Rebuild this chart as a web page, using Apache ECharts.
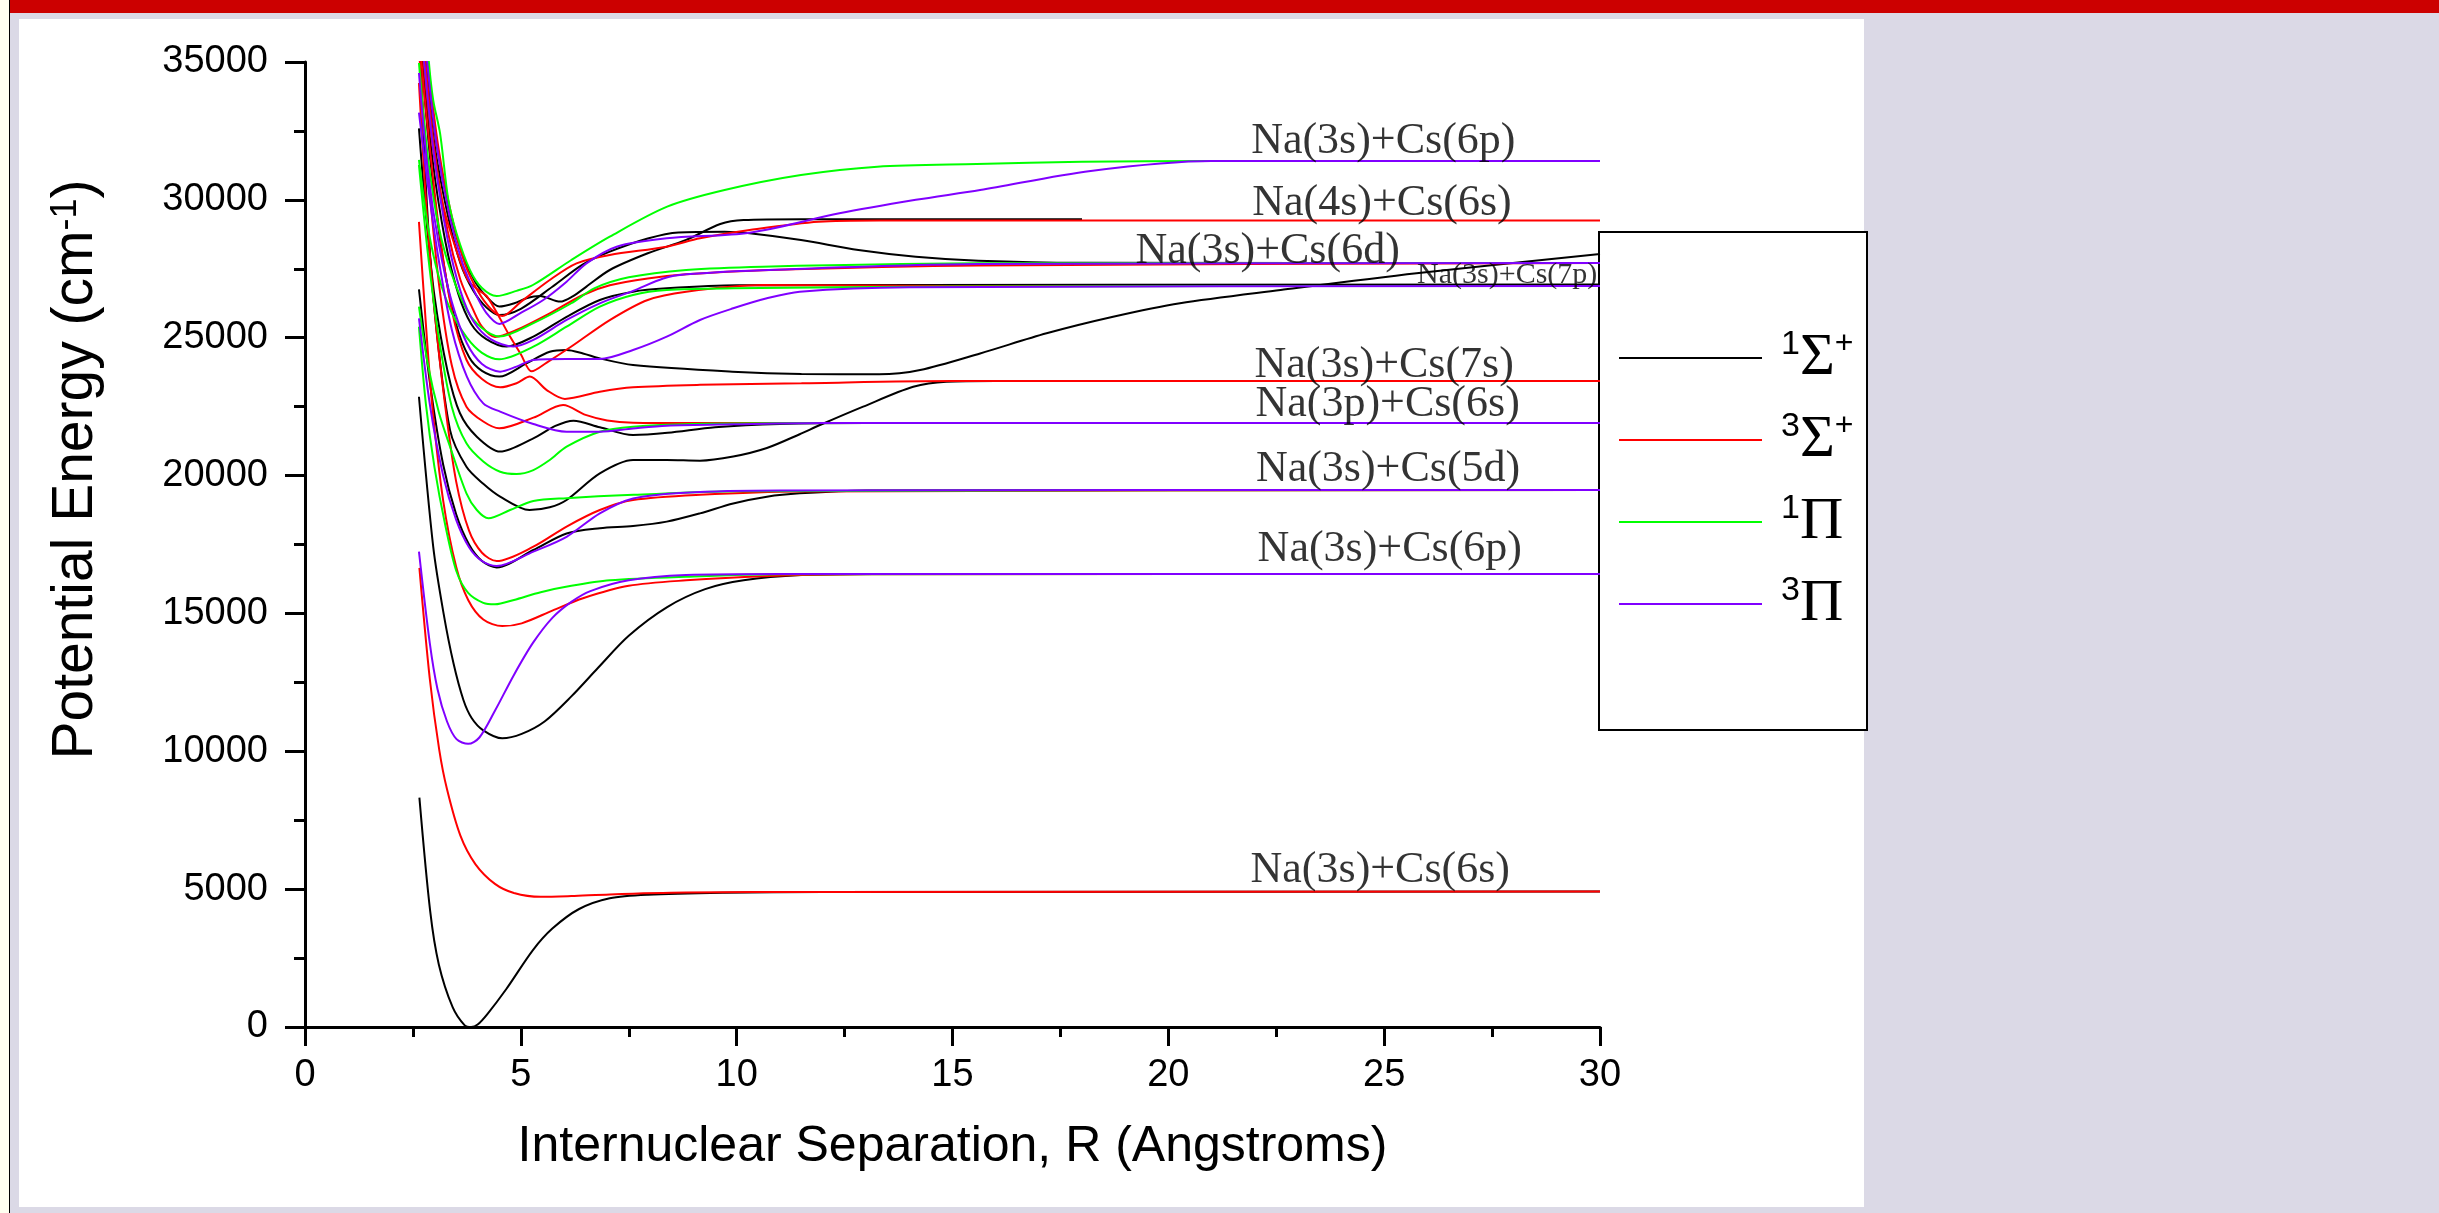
<!DOCTYPE html>
<html>
<head>
<meta charset="utf-8">
<title>NaCs potential energy curves</title>
<script src="https://cdn.jsdelivr.net/npm/echarts/dist/echarts.min.js"></script>
<style>
  html, body { margin: 0; height: 100%; background: #dbd9e6; overflow: hidden; }
  #strip { position: absolute; left: 0; top: 0; width: 9px; height: 1213px; background: #fffff0; border-right: 1px solid #000; }
  #topbar { position: absolute; left: 10px; top: 0; right: 0; height: 13px; background: #cc0000; }
  #panel { position: absolute; left: 19px; top: 19px; width: 1845px; height: 1188px; background: #fff; }
  #container { position: absolute; left: 0; top: 0; width: 2439px; height: 1213px; }
</style>
</head>
<body>
<div id="strip"></div>
<div id="topbar"></div>
<div id="panel"></div>
<div id="container"></div>
<script type="text/javascript">
// R (Angstrom), energy (cm-1)

// Na(3s)+Cs(6s)
const s1_6s = [[2.65,8320],[2.9,4200],[3.1,2270],[3.42,720],[3.7,60],[3.85,0],[4.0,90],[4.22,460],[4.66,1370],[5.28,2790],[5.73,3570],[6.35,4280],[7.06,4670],[7.94,4800],[9.7,4870],[12,4900],[30,4910]];
const s3_6s = [[2.65,16650],[2.89,12640],[3.11,10050],[3.29,8620],[3.6,6940],[3.95,5900],[4.4,5190],[4.84,4860],[5.46,4720],[6.17,4750],[7.06,4810],[8.83,4875],[12,4900],[30,4910]];

// Na(3s)+Cs(6p)
const s1_6p = [[2.64,22860],[2.97,17420],[3.21,15000],[3.44,13190],[3.67,11860],[3.86,11210],[4.13,10760],[4.57,10470],[5.02,10630],[5.55,11080],[6.17,11990],[6.79,13030],[7.5,14190],[8.39,15230],[9.27,15880],[10.16,16200],[11.49,16390],[13.2,16430],[30,16430]];
const s3_6p = [[2.64,29200],[2.8,25500],[2.95,22500],[3.2,19100],[3.5,16700],[3.78,15490],[4.13,14780],[4.57,14540],[5.02,14640],[5.73,15100],[6.44,15550],[7.5,16000],[8.83,16200],[10.6,16350],[13,16420],[30,16430]];
const p1_6p = [[2.64,25400],[2.8,22600],[3.0,20300],[3.25,18200],[3.51,16520],[3.78,15745],[4.13,15383],[4.4,15330],[4.84,15490],[5.46,15770],[6.17,16000],[7.06,16200],[8.83,16330],[11,16420],[30,16430]];
const p3_6p = [[2.64,17240],[2.89,13930],[3.07,12250],[3.29,11080],[3.51,10440],[3.78,10270],[4.04,10500],[4.4,11470],[4.84,12770],[5.28,13930],[5.73,14840],[6.17,15420],[6.61,15810],[7.5,16200],[8.83,16390],[11,16430],[30,16430]];

// Na(3s)+Cs(5d)
const s1_5d = [[2.64,26755],[2.9,23300],[3.2,20400],[3.5,18600],[3.8,17500],[4.1,16900],[4.44,16670],[5.29,17300],[6.06,17900],[6.83,18090],[7.6,18170],[8.38,18330],[9.15,18630],[9.92,18990],[10.7,19235],[11.46,19356],[13,19460],[30,19477]];
const s3_5d = [[2.64,34240],[2.8,30000],[3.0,26000],[3.25,22500],[3.5,19800],[3.8,18000],[4.1,17200],[4.44,16900],[5.29,17420],[6.06,18150],[6.83,18750],[7.6,19110],[9.15,19300],[11.5,19420],[30,19477]];
const p1_5d = [[2.64,26130],[2.85,24000],[3.1,22300],[3.36,21050],[3.74,19355],[3.98,18750],[4.25,18450],[4.75,18750],[5.29,19080],[6.06,19180],[7.61,19300],[10,19430],[30,19477]];
const p3_5d = [[2.64,25700],[2.9,22500],[3.2,20000],[3.5,18400],[3.8,17400],[4.1,16900],[4.44,16720],[5.29,17240],[6.06,17780],[6.83,18630],[7.6,19170],[8.8,19380],[11,19460],[30,19477]];

// Na(3p)+Cs(6s)
const s1_3p = [[2.64,32595],[2.8,29500],[3.0,26500],[3.3,23800],[3.59,22260],[3.98,21410],[4.52,20870],[5.29,21350],[5.8,21800],[6.22,21990],[6.83,21750],[7.6,21470],[8.4,21550],[9.5,21750],[11,21870],[13,21907],[30,21907]];
const s3_3p = [[2.63,36000],[2.66,35000],[2.85,31000],[3.1,27000],[3.4,24000],[3.74,22500],[4.13,21960],[4.5,21714],[5.29,22100],[5.98,22560],[6.5,22200],[7.0,22000],[7.6,21920],[9,21907],[30,21907]];
const p1_3p = [[2.64,31265],[2.85,28000],[3.1,25000],[3.4,22500],[3.74,21170],[4.13,20510],[4.52,20140],[4.9,20057],[5.29,20200],[5.67,20565],[6.06,21048],[6.83,21590],[7.6,21770],[9,21870],[12,21907],[30,21907]];
const p3_3p = [[2.64,33163],[2.85,30500],[3.1,27800],[3.4,25300],[3.75,23590],[4.13,22620],[4.52,22320],[5.29,21870],[6.06,21590],[6.83,21590],[7.6,21710],[8.38,21810],[9.92,21860],[12,21907],[30,21907]];

// Na(3s)+Cs(7s)
const s1_7s = [[2.65,36000],[2.68,35000],[2.8,30500],[3.0,26000],[3.36,21650],[3.74,20320],[4.13,19700],[4.52,19235],[5.2,18750],[5.67,18850],[6.06,19115],[6.83,20080],[7.6,20565],[8.38,20565],[9.15,20540],[9.92,20690],[10.7,21000],[11.46,21500],[11.93,21834],[12.93,22500],[14.09,23220],[14.86,23405],[16,23430],[30,23430]];
const s3_7s = [[2.67,36000],[2.7,35000],[2.85,32500],[3.1,29000],[3.4,26000],[3.74,24200],[4.1,23500],[4.52,23200],[4.9,23350],[5.21,23590],[5.6,23100],[6.02,22780],[6.83,23040],[7.6,23200],[9.15,23290],[11.5,23350],[15,23430],[30,23430]];

// Na(3s)+Cs(7p)
const s1_7p = [[2.70,36000],[2.73,35000],[2.95,31500],[3.25,28500],[3.55,26600],[3.85,25500],[4.2,24950],[4.67,24680],[5.29,25040],[6.06,25760],[6.83,26370],[7.6,26670],[8.38,26790],[10,26900],[30,26930]];
const s3_7p = [[2.72,36000],[2.75,35000],[2.95,32000],[3.2,29800],[3.5,28200],[3.77,27100],[4.0,26750],[4.22,26490],[4.75,25040],[5.0,24400],[5.25,23780],[5.6,24100],[6.17,24680],[7.06,25640],[7.94,26370],[8.83,26670],[10.6,26910],[15,26880],[30,26876]];
const p1_7p = [[2.64,31446],[2.85,29000],[3.1,27200],[3.4,25900],[3.75,25000],[4.1,24450],[4.5,24216],[5.29,24675],[6.06,25400],[6.83,26127],[7.6,26551],[8.38,26730],[9.92,26790],[15,26860],[30,26876]];
const p3_7p = [[2.64,34600],[2.85,31000],[3.1,28400],[3.4,26300],[3.75,24800],[4.1,24050],[4.52,23768],[4.9,23950],[5.29,24192],[6.06,24228],[6.83,24228],[7.6,24555],[8.38,25039],[9.15,25644],[9.92,26067],[10.7,26430],[11.46,26670],[14,26830],[30,26876]];

// Na(3s)+Cs(6d)
const s1_6d = [[2.75,36000],[2.78,35000],[3.0,32000],[3.3,29500],[3.6,27700],[3.9,26700],[4.2,26100],[4.5,25824],[5.0,26050],[5.73,26850],[6.43,27650],[7.06,28121],[7.94,28600],[8.65,28820],[9.72,28846],[10.3,28790],[11.49,28544],[12.82,28183],[14.15,27940],[15.6,27795],[18,27720],[30,27710]];
const s3_6d = [[2.76,36000],[2.79,35000],[3.0,31800],[3.3,28900],[3.6,27100],[3.9,26000],[4.1,25400],[4.4,25026],[4.9,25280],[5.67,25885],[6.44,26550],[7.06,26900],[7.94,27150],[8.83,27300],[10.6,27450],[15.6,27620],[30,27710]];
const p1_6d = [[2.64,34964],[2.85,31500],[3.1,29000],[3.4,27300],[3.75,26000],[4.1,25350],[4.5,25040],[5.28,25520],[6.17,26250],[6.7,26790],[7.5,27190],[8.83,27456],[10.6,27577],[15.6,27700],[30,27710]];
const p3_6d = [[2.73,36000],[2.76,35000],[3.0,31500],[3.3,28600],[3.6,26700],[3.9,25600],[4.3,24950],[4.83,24680],[5.29,24918],[6.06,25643],[6.83,26248],[7.6,26700],[8.3,27150],[8.83,27300],[10.6,27450],[15.6,27674],[30,27710]];

// Na(4s)+Cs(6s)
const s1_4s = [[2.78,36000],[2.81,35000],[3.05,32000],[3.35,29600],[3.65,28000],[3.95,27000],[4.2,26500],[4.5,26130],[4.85,26250],[5.13,26430],[5.44,26514],[5.91,26310],[6.2,26500],[6.52,26852],[7.06,27456],[7.94,28062],[8.83,28546],[9.62,29125],[10.16,29270],[11.5,29300],[18,29300]];
const s3_4s = [[2.82,36000],[2.85,35000],[3.1,31800],[3.4,29400],[3.7,27700],[4.0,26700],[4.3,26050],[4.57,25788],[5.0,26300],[5.67,27094],[6.29,27698],[7.06,28000],[8.38,28302],[9.15,28605],[10.3,28907],[11.9,29209],[13.3,29250],[30,29250]];

// upper limit, labelled Na(3s)+Cs(6p) in the figure
const p1_top = [[2.84,36000],[2.87,35000],[2.97,33620],[3.13,32400],[3.32,30000],[3.51,28790],[3.82,27456],[4.1,26800],[4.44,26513],[4.9,26700],[5.28,26912],[6.17,27819],[7.06,28665],[8.39,29753],[9.72,30358],[11.49,30902],[13.26,31205],[15.56,31301],[18,31380],[21,31410],[30,31410]];
const p3_top = [[2.80,36000],[2.83,35000],[3.05,32000],[3.35,29400],[3.65,27700],[3.95,26600],[4.2,25900],[4.5,25500],[5.0,25900],[5.52,26368],[6.06,27033],[6.52,27698],[7.22,28302],[8.38,28605],[10.3,28810],[12.38,29512],[14.15,30000],[15.64,30358],[18.2,31050],[21,31410],[30,31410]];

// the long-range 1Sigma+ curve that keeps rising to R = 30
const s1_long = [[2.68,36000],[2.71,35000],[2.9,31500],[3.2,27800],[3.5,25500],[3.8,24300],[4.1,23800],[4.5,23590],[5.13,24070],[5.67,24490],[6.06,24555],[6.44,24430],[6.83,24250],[7.6,24010],[9.9,23770],[11.5,23685],[13.3,23673],[14.25,23830],[15.64,24430],[17.18,25160],[18.72,25760],[20.27,26250],[22.6,26730],[25.75,27340],[30,28040]];

// asymptote labels: text, R, energy at text centre
const levelLabels = [
  ['Na(3s)+Cs(6p)', 24.98, 32135],
  ['Na(4s)+Cs(6s)', 24.95, 29886],
  ['Na(3s)+Cs(6d)', 22.30, 28138],
  ['Na(3s)+Cs(7p)', 27.85, 27275],
  ['Na(3s)+Cs(7s)', 25.00, 24011],
  ['Na(3p)+Cs(6s)', 25.08, 22570],
  ['Na(3s)+Cs(5d)', 25.09, 20239],
  ['Na(3s)+Cs(6p)', 25.13, 17319],
  ['Na(3s)+Cs(6s)', 24.91, 5694]
];
const smallLabel = 'Na(3s)+Cs(7p)';

const stateNames = ['S1', 'S3', 'P1', 'P3'];
const stateColors = { S1: '#000000', S3: '#ff0000', P1: '#00ff00', P3: '#8000ff' };
const legendText = {
  S1: '{n|1}{g|\u03A3}{p|+}',
  S3: '{n|3}{g|\u03A3}{p|+}',
  P1: '{n|1}{g|\u03A0}',
  P3: '{n|3}{g|\u03A0}'
};

const curves = [
  ['S1', s1_6s], ['S1', s1_6p], ['S1', s1_5d], ['S1', s1_3p], ['S1', s1_7s], ['S1', s1_long], ['S1', s1_7p], ['S1', s1_6d], ['S1', s1_4s],
  ['S3', s3_6s], ['S3', s3_6p], ['S3', s3_5d], ['S3', s3_3p], ['S3', s3_7s], ['S3', s3_7p], ['S3', s3_6d], ['S3', s3_4s],
  ['P1', p1_6p], ['P1', p1_5d], ['P1', p1_3p], ['P1', p1_7p], ['P1', p1_6d], ['P1', p1_top],
  ['P3', p3_6p], ['P3', p3_5d], ['P3', p3_3p], ['P3', p3_7p], ['P3', p3_6d], ['P3', p3_top]
];

let series = curves.map(([state, pts]) => ({
  name: state,
  type: 'line',
  data: pts,
  symbol: 'none',
  smooth: 0.3,
  clip: true,
  silent: true,
  lineStyle: { width: 2, color: stateColors[state] },
  itemStyle: { color: stateColors[state] }
}));

series.push({
  name: 'labels',
  type: 'scatter',
  silent: true,
  symbolSize: 2,
  itemStyle: { color: 'rgba(255,255,255,0)' },
  data: levelLabels.map(([txt, r, e]) => ({
    value: [r, e],
    label: {
      show: true,
      position: 'inside',
      formatter: txt,
      color: '#000',
      fontFamily: 'Liberation Serif',
      fontSize: txt === smallLabel ? 30 : 44
    }
  })),
  z: 5
});

let chart = echarts.init(document.getElementById('container'), null, { renderer: 'canvas' });
chart.setOption({
  animation: false,
  backgroundColor: 'transparent',
  textStyle: { fontFamily: 'Liberation Sans', color: '#000' },
  grid: { left: 305, right: 839, top: 62, bottom: 186, containLabel: false, outerBoundsMode: 'none' },
  xAxis: {
    type: 'value', min: 0, max: 30, interval: 5,
    name: 'Internuclear Separation, R (Angstroms)',
    nameLocation: 'middle', nameGap: 95,
    nameTextStyle: { fontSize: 50, color: '#000', fontFamily: 'Liberation Sans' },
    axisLine: { show: true, onZero: false, lineStyle: { color: '#000', width: 3 } },
    axisTick: { show: true, inside: false, length: 19, lineStyle: { color: '#000', width: 3 } },
    minorTick: { show: true, splitNumber: 2, length: 10, lineStyle: { color: '#000', width: 3 } },
    splitLine: { show: false },
    axisLabel: { fontSize: 38, color: '#000', margin: 30, fontFamily: 'Liberation Sans', formatter: v => String(v) }
  },
  yAxis: {
    type: 'value', min: 0, max: 35000, interval: 5000,
    name: 'Potential Energy (cm{sup|-1})',
    nameLocation: 'middle', nameGap: 200, nameRotate: 90,
    nameTextStyle: {
      fontSize: 57, color: '#000', fontFamily: 'Liberation Sans',
      padding: [0, 0, 0, 150],
      rich: { sup: { fontSize: 36, verticalAlign: 'top', fontFamily: 'Liberation Sans', color: '#000' } }
    },
    axisLine: { show: true, onZero: false, lineStyle: { color: '#000', width: 3 } },
    axisTick: { show: true, inside: false, length: 20, lineStyle: { color: '#000', width: 3 } },
    minorTick: { show: true, splitNumber: 2, length: 11, lineStyle: { color: '#000', width: 3 } },
    splitLine: { show: false },
    axisLabel: { fontSize: 38, color: '#000', margin: 37, fontFamily: 'Liberation Sans', formatter: v => String(v) }
  },
  legend: {
    data: stateNames.map(n => ({ name: n, icon: 'rect' })),
    orient: 'vertical',
    left: 1619, top: 328,
    padding: 0,
    itemGap: 22,
    itemWidth: 143, itemHeight: 2,
    selectedMode: false,
    formatter: name => legendText[name],
    textStyle: {
      color: '#000',
      rich: {
        n: { fontFamily: 'Liberation Sans', fontSize: 34, lineHeight: 36, verticalAlign: 'top', padding: [0, 0, 0, 14], color: '#000' },
        g: { fontFamily: 'Liberation Serif', fontSize: 60, lineHeight: 60, verticalAlign: 'middle', color: '#000' },
        p: { fontFamily: 'Liberation Sans', fontSize: 32, lineHeight: 36, verticalAlign: 'top', color: '#000' }
      }
    }
  },
  graphic: [{
    type: 'rect', z: 3,
    shape: { x: 1599, y: 232, width: 268, height: 498 },
    style: { fill: '#fff', stroke: '#000', lineWidth: 2 }
  }],
  series: series
});
</script>
</body>
</html>
